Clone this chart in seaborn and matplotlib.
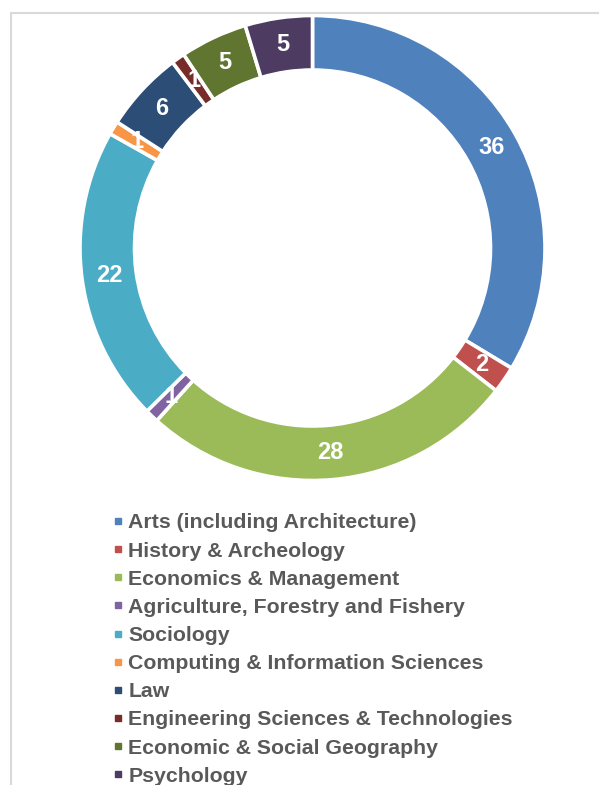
import matplotlib
matplotlib.use('Agg')
import matplotlib.pyplot as plt
import seaborn as sns
from matplotlib.lines import Line2D
from matplotlib.patches import Rectangle

sns.set_theme(style="white")
plt.rcParams['font.family'] = ['Liberation Sans', 'DejaVu Sans']

# Data
fields = ['Arts (including Architecture)', 'History & Archeology', 'Economics & Management',
          'Agriculture, Forestry and Fishery', 'Sociology', 'Computing & Information Sciences',
          'Law', 'Engineering Sciences & Technologies', 'Economic & Social Geography', 'Psychology']
counts = [36, 2, 28, 1, 22, 1, 6, 1, 5, 5]
colors = ['#4F81BD', '#C0504D', '#9BBB59', '#8064A2', '#4BACC6', '#F79646',
          '#2C4D75', '#772C2A', '#5F7530', '#4D3B62']

W, H = 599, 785
fig = plt.figure(figsize=(W / 100, H / 100), dpi=100)
fig.patch.set_facecolor('white')

# light grey chart frame
fig.patches.append(Rectangle((11 / W, -0.1), 1.2, (H - 13) / H + 0.1, transform=fig.transFigure,
                             fill=False, edgecolor='#d9d9d9', linewidth=1.5))

cx, cy, R = 312.5, 248, 232.5
ax = fig.add_axes([(cx - R) / W, (H - cy - R) / H, 2 * R / W, 2 * R / H])
total = sum(counts)
ring = (R - 178) / R
wedges, texts, autotexts = ax.pie(
    counts, colors=colors, startangle=90, counterclock=False, radius=1,
    wedgeprops=dict(width=ring, edgecolor='white', linewidth=2.6),
    autopct=lambda p: f'{round(p * total / 100)}', pctdistance=1 - ring / 2,
    textprops=dict(color='white', fontsize=17, fontweight='bold'))
# labels stay inside their own slice (thin slices hide most of the text)
for w, t in zip(wedges, autotexts):
    t.set_clip_path(w)
ax.set_xlim(-1, 1)
ax.set_ylim(-1, 1)
ax.set_aspect('equal')
ax.axis('off')

handles = [Line2D([], [], marker='s', linestyle='', markersize=5, color=c) for c in colors]
fig.legend(handles, fields, loc='upper left', bbox_to_anchor=(103 / W, 1 - 505 / H),
           frameon=False, handlelength=0.6, handletextpad=0.2, labelspacing=0.43,
           prop=dict(size=15.3, weight='bold'), labelcolor='#595959', borderaxespad=0)

fig.savefig('out.png', dpi=100)
